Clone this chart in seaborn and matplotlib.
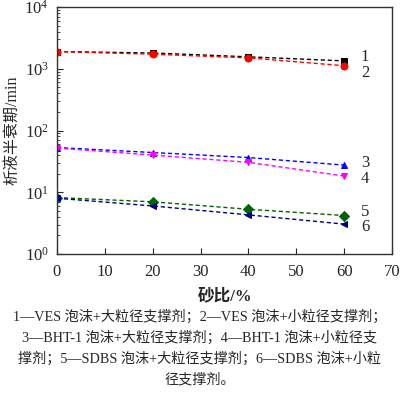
import numpy as np
import pandas as pd
import matplotlib
matplotlib.use('Agg')
import matplotlib.pyplot as plt
import seaborn as sns
from matplotlib.ticker import LogLocator, MultipleLocator

# Data
sand_ratio = [0, 20, 40, 60]
s1 = [1900, 1800, 1560, 1340]
s2 = [1900, 1720, 1500, 1120]
s3 = [53, 44, 36.5, 27.5]
s4 = [52, 40, 30.5, 18.3]
s5 = [8.2, 7.0, 5.3, 4.2]
s6 = [8.0, 6.0, 4.3, 3.05]
labels = ['1', '2', '3', '4', '5', '6']
colors = ['black', 'red', 'blue', 'magenta', 'darkgreen', 'navy']
markers = ['s', 'o', '^', 'v', 'D', '<']
series = [s1, s2, s3, s4, s5, s6]
label_y = [1550, 850, 29.8, 16.4, 4.8, 2.75]

caption = ["1—VES 泡沫+大粒径支撑剂；2—VES 泡沫+小粒径支撑剂；",
           "3—BHT-1 泡沫+大粒径支撑剂；4—BHT-1 泡沫+小粒径支",
           "撑剂；5—SDBS 泡沫+大粒径支撑剂；6—SDBS 泡沫+小粒",
           "径支撑剂。"]

sns.set_style('ticks')
plt.rcParams['font.family'] = ['Liberation Serif', 'Noto Sans CJK SC']
plt.rcParams['mathtext.fontset'] = 'stix'

fig = plt.figure(figsize=(4.0, 3.95), dpi=100)
ax = fig.add_axes([57 / 400, 1 - 254 / 395, 335 / 400, 247 / 395])

for vals, lab, c, m in zip(series, labels, colors, markers):
    df = pd.DataFrame({'x': sand_ratio, 'y': vals})
    sns.lineplot(data=df, x='x', y='y', ax=ax, color=c, marker=m,
                 markersize=5, markeredgecolor=c, linestyle='--',
                 linewidth=1, dashes=False)
    ax.lines[-1].set_dashes([3, 2])

for lab, ly in zip(labels, label_y):
    ax.text(63.5, ly, lab, fontsize=12, va='center', ha='left')

ax.set_yscale('log')
ax.set_xlim(0, 70)
ax.set_ylim(1, 1e4)
ax.xaxis.set_major_locator(MultipleLocator(10))
ax.yaxis.set_major_locator(LogLocator(base=10, numticks=10))
ax.yaxis.set_minor_locator(LogLocator(base=10, subs=np.arange(2, 10), numticks=20))
ax.tick_params(axis='both', which='both', direction='in', labelsize=12)
ax.tick_params(axis='y', which='major', length=4, pad=6)
ax.tick_params(axis='y', which='minor', length=2)
ax.tick_params(axis='x', which='major', length=4, pad=7)
for sp in ax.spines.values():
    sp.set_linewidth(1)
    sp.set_color('#333333')

ax.set_xlabel('砂比/%', fontsize=12, fontweight='bold', labelpad=6)
ax.set_ylabel('')
# y label placed at a fixed spot at the left edge
fig.text(12 / 400, 1 - 130 / 395, '析液半衰期/min', rotation=90,
         ha='center', va='center', fontsize=11.5)

for i, line in enumerate(caption):
    fig.text(0.5, 1 - (317 + i * 21) / 395, line, ha='center', va='center',
             fontsize=10.2)

fig.savefig('out.png', dpi=100)
